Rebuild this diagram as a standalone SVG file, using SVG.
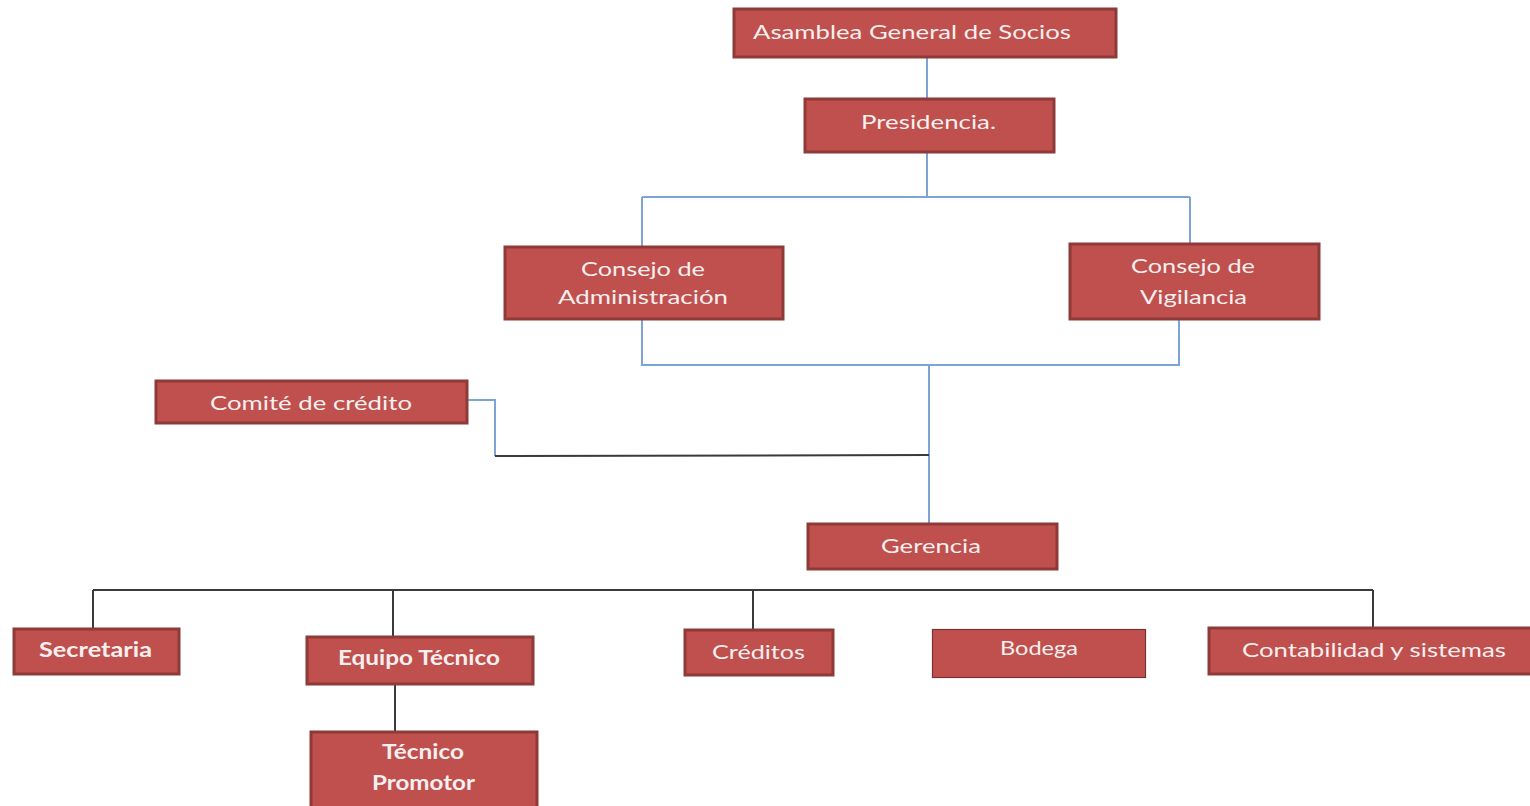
<svg xmlns="http://www.w3.org/2000/svg" width="1530" height="806" viewBox="0 0 1530 806">
<style>
.box{fill:#c0504d;stroke:#8e3a38;stroke-width:3}
.thin{fill:#c0504d;stroke:#7a3230;stroke-width:1.2}
.t{font-family:Lato,"Open Sans","Liberation Sans",sans-serif;font-size:20px;fill:#f6efef}
.b{font-weight:bold}
.blue{fill:none;stroke:#7ea4d6;stroke-width:2}
.dark{fill:none;stroke:#3a3a3a;stroke-width:2}
</style>
<rect width="1530" height="806" fill="#ffffff"/>
<g id="connectors">
<path class="blue" d="M927 58V98"/>
<path class="blue" d="M927 153V197M642 197H1190M642 197V246M1190 197V243"/>
<path class="blue" d="M642 320V365H1179V320M929 365V523"/>
<path class="blue" d="M468 400H495V456"/>
<path class="dark" d="M495 456L929 455"/>
<path class="dark" d="M93 590H1373M93 590V628M393 590V636M753 590V629M1373 590V628"/>
<path class="dark" d="M395 685V731"/>
</g>
<g id="asamblea"><rect class="box" x="734" y="9" width="382" height="48"/><text class="t" x="753" y="39" textLength="318" lengthAdjust="spacingAndGlyphs">Asamblea General de Socios</text></g>
<g id="presidencia"><rect class="box" x="805" y="99" width="249" height="53"/><text class="t" x="861" y="129" textLength="135" lengthAdjust="spacingAndGlyphs">Presidencia.</text></g>
<g id="consejo-admin"><rect class="box" x="505" y="247" width="278" height="72"/><text class="t" x="581" y="276" textLength="124" lengthAdjust="spacingAndGlyphs">Consejo de</text><text class="t" x="558" y="304" textLength="170" lengthAdjust="spacingAndGlyphs">Administración</text></g>
<g id="consejo-vig"><rect class="box" x="1070" y="244" width="249" height="75"/><text class="t" x="1131" y="273" textLength="124" lengthAdjust="spacingAndGlyphs">Consejo de</text><text class="t" x="1140" y="304" textLength="107" lengthAdjust="spacingAndGlyphs">Vigilancia</text></g>
<g id="comite"><rect class="box" x="156" y="381" width="311" height="42"/><text class="t" x="210" y="410" textLength="202" lengthAdjust="spacingAndGlyphs">Comité de crédito</text></g>
<g id="gerencia"><rect class="box" x="808" y="524" width="249" height="45"/><text class="t" x="881" y="553" textLength="100" lengthAdjust="spacingAndGlyphs">Gerencia</text></g>
<g id="secretaria"><rect class="box" x="14" y="629" width="165" height="45"/><text class="t b" x="39" y="657" textLength="113" lengthAdjust="spacingAndGlyphs">Secretaria</text></g>
<g id="equipo"><rect class="box" x="307" y="637" width="226" height="47"/><text class="t b" x="338" y="665" textLength="162" lengthAdjust="spacingAndGlyphs">Equipo Técnico</text></g>
<g id="tecnico"><rect class="box" x="311" y="732" width="226" height="80"/><text class="t b" x="382" y="759" textLength="82" lengthAdjust="spacingAndGlyphs">Técnico</text><text class="t b" x="372" y="790" textLength="103" lengthAdjust="spacingAndGlyphs">Promotor</text></g>
<g id="creditos"><rect class="box" x="685" y="630" width="148" height="45"/><text class="t" x="712" y="659" textLength="93" lengthAdjust="spacingAndGlyphs">Créditos</text></g>
<g id="bodega"><rect class="thin" x="932.5" y="629.5" width="213" height="48"/><text class="t" x="1000" y="655" textLength="78" lengthAdjust="spacingAndGlyphs">Bodega</text></g>
<g id="contabilidad"><rect class="box" x="1209" y="628" width="325" height="46"/><text class="t" x="1242" y="657" textLength="264" lengthAdjust="spacingAndGlyphs">Contabilidad y sistemas</text></g>
</svg>
